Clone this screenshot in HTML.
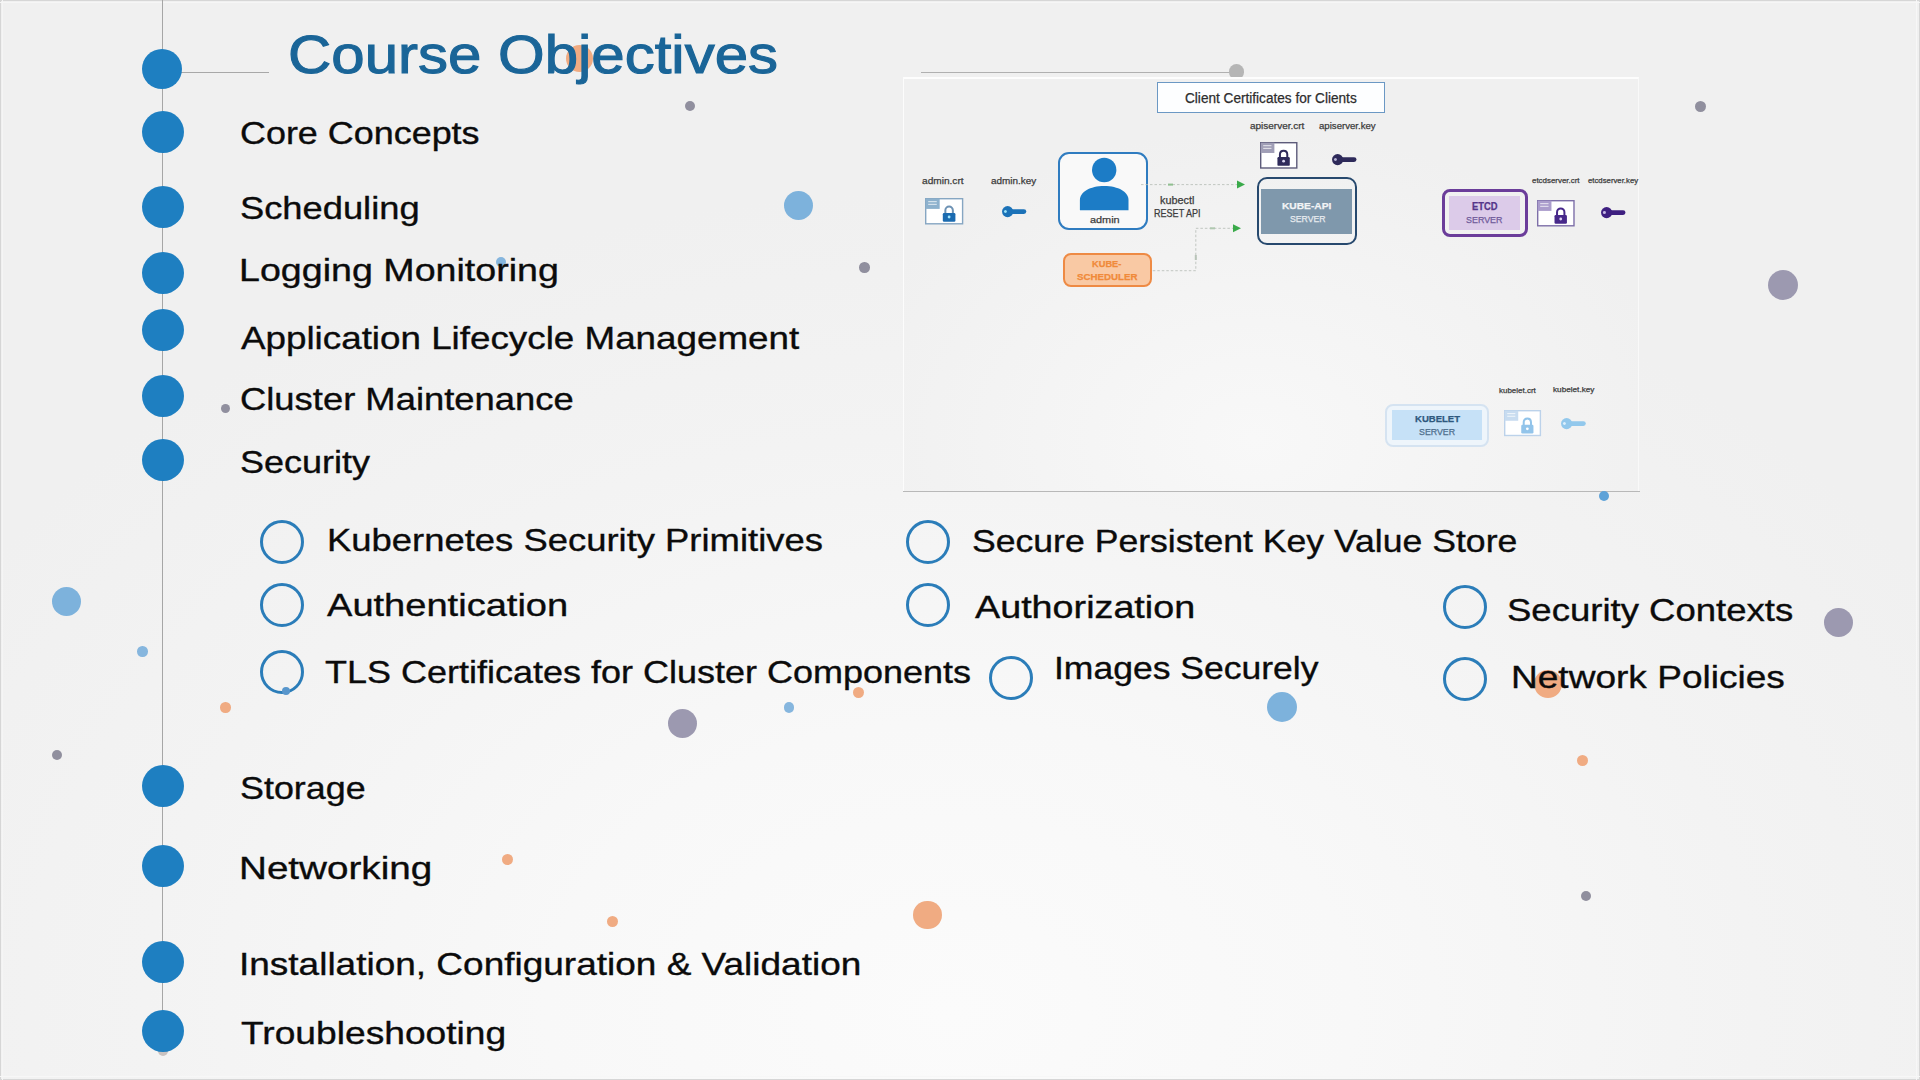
<!DOCTYPE html>
<html><head><meta charset="utf-8"><style>
html,body{margin:0;padding:0;}
body{width:1920px;height:1080px;position:relative;overflow:hidden;
background: radial-gradient(ellipse 1150px 820px at 950px 1010px, #fbfbfb 0%, #f8f8f8 35%, #f3f3f3 70%, #f0f0f0 100%);
font-family:"Liberation Sans",sans-serif;}
.t{position:absolute;white-space:nowrap;line-height:1;color:#0b0b0b;transform-origin:0 0;-webkit-text-stroke:0.35px #0b0b0b;}
.title{color:#1a6598;-webkit-text-stroke:1.1px #1a6598;}
.fc{position:absolute;border-radius:50%;background:#1e7fc1;}
.hc{position:absolute;width:38px;height:38px;border-radius:50%;border:3px solid #2b7db9;}
.dot{position:absolute;border-radius:50%;}
.l{position:absolute;white-space:nowrap;line-height:1;transform-origin:0 0;-webkit-text-stroke:0.25px currentColor;}
.edge{position:absolute;background:#d6d6d6;}
</style></head><body>
<div class="edge" style="left:0;top:0;width:1920px;height:1px"></div>
<div class="edge" style="left:0;top:0;width:1px;height:1080px"></div>
<div class="edge" style="right:0;top:0;width:1px;height:1080px"></div>
<div class="edge" style="left:0;bottom:0;width:1920px;height:1px"></div>
<div style="position:absolute;left:0;top:2px;width:1920px;height:1px;background:#f6f6f6"></div>
<div style="position:absolute;left:2px;top:0;width:1px;height:1080px;background:#f5f5f5"></div>
<div style="position:absolute;right:3px;top:0;width:1px;height:1080px;background:#f7f7f7"></div>
<div style="position:absolute;left:0;bottom:3px;width:1920px;height:1px;background:#f7f7f7"></div>
<div style="position:absolute;left:162px;top:0;width:1px;height:1040px;background:#a6a6a6"></div><div style="position:absolute;left:170px;top:72px;width:99px;height:1px;background:#a8a8a8"></div><div style="position:absolute;left:921px;top:72px;width:316px;height:1px;background:#b0b0b0"></div><div class="dot" style="left:158px;top:1046px;width:10px;height:10px;background:#c9c2c0"></div><div class="fc" style="left:141.75px;top:48.50px;width:40.5px;height:40.5px"></div><div class="fc" style="left:142.00px;top:111.00px;width:42px;height:42px"></div><div class="fc" style="left:142.00px;top:186.00px;width:42px;height:42px"></div><div class="fc" style="left:142.00px;top:252.00px;width:42px;height:42px"></div><div class="fc" style="left:142.00px;top:309.00px;width:42px;height:42px"></div><div class="fc" style="left:142.00px;top:375.00px;width:42px;height:42px"></div><div class="fc" style="left:142.00px;top:439.00px;width:42px;height:42px"></div><div class="fc" style="left:142.00px;top:764.50px;width:42px;height:42px"></div><div class="fc" style="left:142.00px;top:845.00px;width:42px;height:42px"></div><div class="fc" style="left:142.00px;top:940.50px;width:42px;height:42px"></div><div class="fc" style="left:142.00px;top:1009.50px;width:42px;height:42px"></div><div class="hc" style="left:259.50px;top:520.00px"></div><div class="hc" style="left:259.50px;top:583.00px"></div><div class="hc" style="left:259.50px;top:650.00px"></div><div class="hc" style="left:906.40px;top:520.00px"></div><div class="hc" style="left:906.40px;top:583.00px"></div><div class="hc" style="left:989.00px;top:655.60px"></div><div class="hc" style="left:1442.50px;top:585.40px"></div><div class="hc" style="left:1442.50px;top:657.00px"></div><div class="dot" style="left:1228.7px;top:64px;width:15.5px;height:15.5px;background:#b5b5b5"></div><div style="position:absolute;left:903px;top:77px;width:736px;height:414px;background:radial-gradient(ellipse 430px 310px at 350px 360px,#f8f8f8 0%,#f4f4f4 50%,#f0f0f0 100%);box-sizing:border-box;border-top:2px solid #fdfdfd;border-left:1.5px solid #fcfcfc;border-right:1.5px solid #f9f9f9"></div><div style="position:absolute;left:903px;top:491px;width:737px;height:1.3px;background:#b8b8b8"></div><div style="position:absolute;left:1156.5px;top:82.2px;width:228.79999999999995px;height:31.0px;box-sizing:border-box;border:1.8px solid #6b98c4;border-radius:0px;background:#fdfeff;"></div><div class="l" style="left:1185.00px;top:90.95px;font-size:14px;transform:scaleX(0.9722);color:#2d2d2d">Client Certificates for Clients</div><div class="l" style="left:922.10px;top:175.86px;font-size:9.5px;transform:scaleX(1.0652);color:#3c3c3c">admin.crt</div><div class="l" style="left:990.50px;top:175.86px;font-size:9.5px;transform:scaleX(1.0425);color:#3c3c3c">admin.key</div><div class="l" style="left:1249.70px;top:120.86px;font-size:9.5px;transform:scaleX(1.0499);color:#3c3c3c">apiserver.crt</div><div class="l" style="left:1318.70px;top:120.86px;font-size:9.5px;transform:scaleX(1.0121);color:#3c3c3c">apiserver.key</div><div class="l" style="left:1532.00px;top:177.17px;font-size:7.6px;transform:scaleX(1.0437);color:#3c3c3c">etcdserver.crt</div><div class="l" style="left:1587.70px;top:176.87px;font-size:7.6px;transform:scaleX(1.0232);color:#3c3c3c">etcdserver.key</div><div class="l" style="left:1499.00px;top:386.87px;font-size:7.6px;transform:scaleX(1.0495);color:#3c3c3c">kubelet.crt</div><div class="l" style="left:1553.00px;top:386.17px;font-size:7.6px;transform:scaleX(1.0773);color:#3c3c3c">kubelet.key</div><svg style="position:absolute;left:922.5px;top:195.5px;overflow:visible" width="42.299999999999955" height="30.5" viewBox="922.5 195.5 42.299999999999955 30.5">
<rect x="925.2" y="198.2" width="36.899999999999956" height="25.1" fill="#fff" stroke="#86a6c2" stroke-width="1.4"/>
<rect x="925.2" y="198.2" width="13.979499999999984" height="10.2025" fill="#8db1cd"/>
<line x1="927.7" y1="201.1729" x2="936.2795" y2="201.1729" stroke="#fff" stroke-width="0.9" opacity="0.85"/>
<line x1="927.7" y1="203.82555" x2="936.2795" y2="203.82555" stroke="#fff" stroke-width="0.9" opacity="0.85"/>
<path d="M944.86 213.00 V209.75 A3.75 3.75 0 0 1 952.36 209.75 V213.00" fill="none" stroke="#6d92b4" stroke-width="2"/>
<rect x="942.31" y="212.50" width="12.60" height="8.69" rx="1.2" fill="#1b6bb0"/>
<circle cx="948.61" cy="216.50" r="1.4" fill="#9fe6ff"/>
</svg><svg style="position:absolute;left:1258px;top:140.1px;overflow:visible" width="41.5" height="30.700000000000017" viewBox="1258 140.1 41.5 30.700000000000017">
<rect x="1260.7" y="142.79999999999998" width="36.1" height="25.30000000000002" fill="#fff" stroke="#5d5b7a" stroke-width="1.4"/>
<rect x="1260.7" y="142.79999999999998" width="13.6875" height="10.279500000000008" fill="#a09eb6"/>
<line x1="1263.2" y1="145.80062" x2="1271.4875" y2="145.80062" stroke="#fff" stroke-width="0.9" opacity="0.85"/>
<line x1="1263.2" y1="148.47329" x2="1271.4875" y2="148.47329" stroke="#fff" stroke-width="0.9" opacity="0.85"/>
<path d="M1279.93 157.71 V154.33 A3.68 3.68 0 0 1 1287.28 154.33 V157.71" fill="none" stroke="#2e2a5a" stroke-width="2"/>
<rect x="1277.44" y="157.21" width="12.34" height="8.76" rx="1.2" fill="#2e2a5a"/>
<circle cx="1283.61" cy="161.24" r="1.4" fill="#d8d4ee"/>
</svg><svg style="position:absolute;left:1534.8px;top:197.5px;overflow:visible" width="41.700000000000045" height="30.5" viewBox="1534.8 197.5 41.700000000000045 30.5">
<rect x="1537.5" y="200.2" width="36.30000000000005" height="25.1" fill="#fff" stroke="#7d6fa8" stroke-width="1.4"/>
<rect x="1537.5" y="200.2" width="13.760500000000016" height="10.2025" fill="#aa9ccc"/>
<line x1="1540.0" y1="203.1729" x2="1548.3605" y2="203.1729" stroke="#fff" stroke-width="0.9" opacity="0.85"/>
<line x1="1540.0" y1="205.82555" x2="1548.3605" y2="205.82555" stroke="#fff" stroke-width="0.9" opacity="0.85"/>
<path d="M1556.84 215.00 V211.69 A3.69 3.69 0 0 1 1564.23 211.69 V215.00" fill="none" stroke="#47288a" stroke-width="2"/>
<rect x="1554.33" y="214.50" width="12.40" height="8.69" rx="1.2" fill="#47288a"/>
<circle cx="1560.53" cy="218.50" r="1.4" fill="#e0d4f4"/>
</svg><svg style="position:absolute;left:1501.5px;top:408px;overflow:visible" width="41.09999999999991" height="30.19999999999999" viewBox="1501.5 408 41.09999999999991 30.19999999999999">
<rect x="1504.2" y="410.7" width="35.69999999999991" height="24.79999999999999" fill="#fff" stroke="#bcd2ea" stroke-width="1.4"/>
<rect x="1504.2" y="410.7" width="13.541499999999967" height="10.086999999999996" fill="#c8dcf0"/>
<line x1="1506.7" y1="413.63132" x2="1514.8415" y2="413.63132" stroke="#fff" stroke-width="0.9" opacity="0.85"/>
<line x1="1506.7" y1="416.25394" x2="1514.8415" y2="416.25394" stroke="#fff" stroke-width="0.9" opacity="0.85"/>
<path d="M1523.22 425.33 V422.05 A3.64 3.64 0 0 1 1530.49 422.05 V425.33" fill="none" stroke="#92c4ea" stroke-width="2"/>
<rect x="1520.75" y="424.83" width="12.21" height="8.59" rx="1.2" fill="#92c4ea"/>
<circle cx="1526.85" cy="428.79" r="1.4" fill="#ffffff"/>
</svg><svg style="position:absolute;left:1001.1px;top:204.8px;overflow:visible" width="26.300000000000047" height="13.2" viewBox="1001.1 204.8 26.300000000000047 13.2">
<circle cx="1007.7" cy="211.4" r="5.6" fill="#1b72b8"/>
<path d="M1007.7 209.0 H1024.0 A2.4 2.4 0 0 1 1024.0 213.8 H1007.7 Z" fill="#1b72b8"/>
<circle cx="1005.5" cy="211.4" r="1.5" fill="#a8eeff" opacity="0.9"/>
</svg><svg style="position:absolute;left:1330.7px;top:152.9px;overflow:visible" width="26.500000000000092" height="13.2" viewBox="1330.7 152.9 26.500000000000092 13.2">
<circle cx="1337.3" cy="159.5" r="5.6" fill="#2e2a5a"/>
<path d="M1337.3 157.1 H1353.8 A2.4 2.4 0 0 1 1353.8 161.9 H1337.3 Z" fill="#2e2a5a"/>
<circle cx="1335.1" cy="159.5" r="1.5" fill="#c8c4e4" opacity="0.9"/>
</svg><svg style="position:absolute;left:1599.9px;top:206.1px;overflow:visible" width="26.500000000000092" height="13.2" viewBox="1599.9 206.1 26.500000000000092 13.2">
<circle cx="1606.5" cy="212.7" r="5.6" fill="#3e1f80"/>
<path d="M1606.5 210.29999999999998 H1623.0 A2.4 2.4 0 0 1 1623.0 215.1 H1606.5 Z" fill="#3e1f80"/>
<circle cx="1604.3" cy="212.7" r="1.5" fill="#d4c8f0" opacity="0.9"/>
</svg><svg style="position:absolute;left:1559.7px;top:416.79999999999995px;overflow:visible" width="26.800000000000047" height="13.2" viewBox="1559.7 416.79999999999995 26.800000000000047 13.2">
<circle cx="1566.3" cy="423.4" r="5.6" fill="#92c8ec"/>
<path d="M1566.3 421.0 H1583.1 A2.4 2.4 0 0 1 1583.1 425.79999999999995 H1566.3 Z" fill="#92c8ec"/>
<circle cx="1564.1" cy="423.4" r="1.5" fill="#e4f4ff" opacity="0.9"/>
</svg><div style="position:absolute;left:1057.6px;top:151.9px;width:90.30000000000018px;height:78.1px;box-sizing:border-box;border:2.8px solid #2f7cc0;border-radius:11px;background:#f9f9f9;"></div><svg style="position:absolute;left:1075px;top:155px" width="60" height="60" viewBox="1075 155 60 60"><circle cx="1104.2" cy="170" r="12.2" fill="#1c7cc6"/><path d="M1079.9 210.3 V200 C1079.9 192 1090 186 1104.2 186 C1118.4 186 1128.5 192 1128.5 200 V210.3 Z" fill="#1c7cc6"/></svg><div class="l" style="left:1089.60px;top:214.50px;font-size:9.8px;transform:scaleX(1.1111);color:#3c3c3c">admin</div><div class="l" style="left:1159.70px;top:196.07px;font-size:10.2px;transform:scaleX(1.0636);color:#3c3c3c">kubectl</div><div class="l" style="left:1153.50px;top:208.87px;font-size:10.2px;transform:scaleX(0.8877);color:#3c3c3c">RESET API</div><svg style="position:absolute;left:1140px;top:178px" width="110" height="100" viewBox="1140 178 110 100">
<path d="M1141 184.6 H1238" stroke="#b4bab4" stroke-width="0.8" stroke-dasharray="2.5 2" fill="none"/>
<path d="M1237 180.6 L1245 184.6 L1237 188.6 Z" fill="#3aaa4a"/>
<path d="M1152.8 270.7 H1195.8 V228.3 H1234" stroke="#b4bab4" stroke-width="0.8" stroke-dasharray="2.5 2" fill="none"/>
<path d="M1233 224.3 L1241 228.3 L1233 232.3 Z" fill="#3aaa4a"/>
<rect x="1168" y="183.6" width="5" height="2" fill="#8fbf8f"/>
<rect x="1210" y="227.3" width="5" height="2" fill="#b0c8b0"/>
<rect x="1194.8" y="255" width="2" height="5" fill="#b8c4b8"/>
</svg><div style="position:absolute;left:1063.2px;top:253.3px;width:88.79999999999995px;height:33.69999999999999px;box-sizing:border-box;border:2.5px solid #ee8a44;border-radius:8px;background:#f9c9a4;"></div><div class="l" style="left:1091.70px;top:259.20px;font-size:9.8px;transform:scaleX(0.9461);color:#f08a3a;font-weight:bold">KUBE-</div><div class="l" style="left:1076.50px;top:272.00px;font-size:9.8px;transform:scaleX(0.9936);color:#f08a3a;font-weight:bold">SCHEDULER</div><div style="position:absolute;left:1257px;top:177.4px;width:100.20000000000005px;height:68.0px;box-sizing:border-box;border:2.6px solid #27496e;border-radius:10px;background:transparent;"></div><div style="position:absolute;left:1261.3px;top:189px;width:91.10000000000014px;height:45px;box-sizing:border-box;border:0px solid #7f98ac;border-radius:0px;background:#7f98ac;"></div><div class="l" style="left:1282.00px;top:200.50px;font-size:9.8px;transform:scaleX(1.0413);color:#f2f4f6;font-weight:bold">KUBE-API</div><div class="l" style="left:1289.50px;top:213.70px;font-size:9.8px;transform:scaleX(0.8867);color:#e8ecf0">SERVER</div><div style="position:absolute;left:1441.6px;top:188.5px;width:86.80000000000018px;height:48.19999999999999px;box-sizing:border-box;border:3px solid #6b3d9a;border-radius:8px;background:transparent;"></div><div style="position:absolute;left:1448.5px;top:196px;width:71.5px;height:33.5px;box-sizing:border-box;border:0px solid #dccbe9;border-radius:0px;background:#dccbe9;"></div><div class="l" style="left:1471.50px;top:201.94px;font-size:10px;transform:scaleX(0.9370);color:#55358a;font-weight:bold">ETCD</div><div class="l" style="left:1466.20px;top:215.30px;font-size:9.8px;transform:scaleX(0.9092);color:#6f5a9a">SERVER</div><div style="position:absolute;left:1385px;top:404.3px;width:103.5px;height:43.0px;box-sizing:border-box;border:2px solid #d5e3f1;border-radius:8px;background:#eef5fb;"></div><div style="position:absolute;left:1391.5px;top:410px;width:90.5px;height:30px;box-sizing:border-box;border:0px solid #c6e1f7;border-radius:0px;background:#c6e1f7;"></div><div class="l" style="left:1414.50px;top:414.20px;font-size:9.8px;transform:scaleX(0.9724);color:#2e587e;font-weight:bold">KUBELET</div><div class="l" style="left:1419.00px;top:427.30px;font-size:9.8px;transform:scaleX(0.8992);color:#4d6d8c">SERVER</div><div class="dot" style="left:566.0px;top:44.5px;width:27px;height:27px;background:#f0ab82"></div><div class="dot" style="left:685.0px;top:101.3px;width:10px;height:10px;background:#908f9e"></div><div class="dot" style="left:784.0px;top:190.5px;width:29px;height:29px;background:#7db2dc"></div><div class="dot" style="left:496.0px;top:257.0px;width:10px;height:10px;background:#86b6de"></div><div class="dot" style="left:859.4px;top:262.4px;width:10.5px;height:10.5px;background:#908f9e"></div><div class="dot" style="left:220.5px;top:403.5px;width:9px;height:9px;background:#908f9e"></div><div class="dot" style="left:1694.9px;top:100.7px;width:11px;height:11px;background:#908f9e"></div><div class="dot" style="left:1767.7px;top:269.7px;width:30px;height:30px;background:#9c99b0"></div><div class="dot" style="left:1598.6px;top:490.7px;width:10px;height:10px;background:#5ea2d8"></div><div class="dot" style="left:52.2px;top:586.5px;width:29px;height:29px;background:#7db2dc"></div><div class="dot" style="left:137.2px;top:646.4px;width:10.5px;height:10.5px;background:#86b6de"></div><div class="dot" style="left:220.2px;top:702.0px;width:10.5px;height:10.5px;background:#f0ab82"></div><div class="dot" style="left:282.3px;top:687.3px;width:8px;height:8px;background:#5896cc"></div><div class="dot" style="left:668.3px;top:708.7px;width:29px;height:29px;background:#9c99b0"></div><div class="dot" style="left:783.8px;top:702.4px;width:10.4px;height:10.4px;background:#86b6de"></div><div class="dot" style="left:852.9px;top:686.5px;width:11px;height:11px;background:#f0ab82"></div><div class="dot" style="left:1266.8px;top:692.0px;width:30px;height:30px;background:#7db2dc"></div><div class="dot" style="left:1823.8px;top:607.5px;width:29px;height:29px;background:#9c99b0"></div><div class="dot" style="left:1534.0px;top:669.5px;width:28px;height:28px;background:#f0ab82"></div><div class="dot" style="left:1576.7px;top:754.9px;width:11px;height:11px;background:#f0ab82"></div><div class="dot" style="left:51.5px;top:749.6px;width:10.5px;height:10.5px;background:#908f9e"></div><div class="dot" style="left:502.1px;top:853.5px;width:11px;height:11px;background:#f0ab82"></div><div class="dot" style="left:607.0px;top:915.5px;width:11px;height:11px;background:#f0ab82"></div><div class="dot" style="left:913.0px;top:900.8px;width:28.5px;height:28.5px;background:#f0ab82"></div><div class="dot" style="left:1581.0px;top:890.6px;width:10px;height:10px;background:#908f9e"></div><div class="t title" style="left:288.08px;top:26.99px;font-size:54px;transform:scaleX(1.1107);">Course Objectives</div><div class="t" style="left:239.87px;top:118.48px;font-size:31.8px;transform:scaleX(1.1295);">Core Concepts</div><div class="t" style="left:239.86px;top:192.58px;font-size:31.8px;transform:scaleX(1.1413);">Scheduling</div><div class="t" style="left:238.63px;top:255.38px;font-size:31.8px;transform:scaleX(1.1830);">Logging Monitoring</div><div class="t" style="left:241.00px;top:322.78px;font-size:31.8px;transform:scaleX(1.1568);">Application Lifecycle Management</div><div class="t" style="left:239.86px;top:383.78px;font-size:31.8px;transform:scaleX(1.1444);">Cluster Maintenance</div><div class="t" style="left:239.87px;top:446.78px;font-size:31.8px;transform:scaleX(1.1320);">Security</div><div class="t" style="left:239.87px;top:772.78px;font-size:31.8px;transform:scaleX(1.1278);">Storage</div><div class="t" style="left:238.57px;top:853.08px;font-size:31.8px;transform:scaleX(1.2146);">Networking</div><div class="t" style="left:238.67px;top:948.78px;font-size:31.8px;transform:scaleX(1.1632);">Installation, Configuration &amp; Validation</div><div class="t" style="left:241.00px;top:1017.58px;font-size:31.8px;transform:scaleX(1.1689);">Troubleshooting</div><div class="t" style="left:327.11px;top:524.78px;font-size:31.8px;transform:scaleX(1.1454);">Kubernetes Security Primitives</div><div class="t" style="left:327.30px;top:589.78px;font-size:31.8px;transform:scaleX(1.1969);">Authentication</div><div class="t" style="left:325.00px;top:657.18px;font-size:31.8px;transform:scaleX(1.1318);">TLS Certificates for Cluster Components</div><div class="t" style="left:971.88px;top:526.08px;font-size:31.8px;transform:scaleX(1.1192);">Secure Persistent Key Value Store</div><div class="t" style="left:974.80px;top:592.08px;font-size:31.8px;transform:scaleX(1.1864);">Authorization</div><div class="t" style="left:1053.77px;top:653.08px;font-size:31.8px;transform:scaleX(1.1170);">Images Securely</div><div class="t" style="left:1507.15px;top:594.78px;font-size:31.8px;transform:scaleX(1.1485);">Security Contexts</div><div class="t" style="left:1510.87px;top:661.98px;font-size:31.8px;transform:scaleX(1.1654);">Network Policies</div>
</body></html>
